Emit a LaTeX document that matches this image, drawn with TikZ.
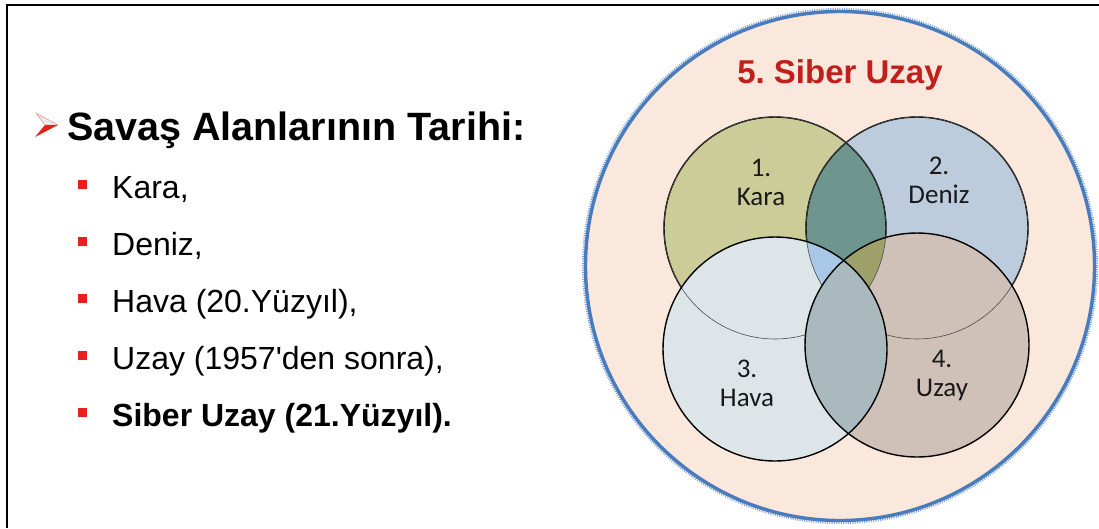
\documentclass[tikz,border=0pt]{standalone}
\usepackage{fontspec}
\setmainfont{Liberation Sans}
\newfontfamily\calibri{Carlito}
\definecolor{peach}{HTML}{FBE8DC}
\definecolor{ringblue}{HTML}{4A7BBD}
\definecolor{ringlight}{HTML}{7FA4D6}
\definecolor{karaC}{HTML}{CBCC98}
\definecolor{denizC}{HTML}{BCCCDC}
\definecolor{havaC}{HTML}{DDE5E8}
\definecolor{uzayC}{HTML}{CFC0B8}
\definecolor{tealC}{HTML}{6E968F}
\definecolor{lblueC}{HTML}{A9C8E6}
\definecolor{oliveC}{HTML}{9DA169}
\definecolor{lensC}{HTML}{A9B9BE}
\definecolor{bulletred}{HTML}{E8201C}
\definecolor{titlered}{HTML}{C0201C}
\tikzset{
  setcircle/.style={line width=1.4pt, draw=black},
  thinarc/.style={line width=0.6pt, draw=black!70},
  itemtext/.style={anchor=base west, inner sep=0pt, font=\fontsize{32}{36}\selectfont},
  bulletbox/.style={fill=bulletred, minimum size=9pt, inner sep=0pt},
  circlabel/.style={anchor=base, align=center, inner sep=0pt, text=black!90, font=\calibri\fontsize{27}{29}\selectfont}
}
\frenchspacing
\begin{document}
\frenchspacing
\begin{tikzpicture}[x=1pt,y=-1pt]
\useasboundingbox (0,0) rectangle (1099,528);
\fill[white] (0,0) rectangle (1099,528);
% frame (top and left edges)
\draw[line width=2pt] (7,528) -- (7,4.5) -- (1099,4.5);

% ---------- left text ----------
% arrow bullet
\coordinate (aTop) at (36,113);
\coordinate (aTip) at (58,125);
\coordinate (aNotch) at (45,125);
\coordinate (aBot) at (35,137);
\fill[white!92!black, draw=bulletred!60, line width=0.4pt] (aTop) -- (aTip) -- (aNotch) -- cycle;
\fill[bulletred] (aNotch) -- (aTip) -- (aBot) -- cycle;
\node[anchor=base west, inner sep=0pt, font=\bfseries\fontsize{39.5}{44}\selectfont] (title) at (67,140) {Savaş Alanlarının Tarihi:};

\node[bulletbox] (b1) at (82,184) {};
\node[itemtext] (t1) at (112,198) {Kara,};
\node[bulletbox] (b2) at (82,241) {};
\node[itemtext] (t2) at (112,255) {Deniz,};
\node[bulletbox] (b3) at (82,298) {};
\node[itemtext] (t3) at (112,312) {Hava (20.Yüzyıl),};
\node[bulletbox] (b4) at (82,355) {};
\node[itemtext] (t4) at (112,369) {Uzay (1957\textquotesingle den sonra),};
\node[bulletbox] (b5) at (82,412) {};
\node[itemtext, font=\bfseries\fontsize{32}{36}\selectfont] (t5) at (112,426) {Siber Uzay (21.Yüzyıl).};

% ---------- right diagram ----------
\coordinate (cB) at (840,266);
\coordinate (cK) at (775,228);
\coordinate (cD) at (917,228);
\coordinate (cH) at (775,349);
\coordinate (cU) at (917,345);
\def\rK{111pt}
\def\rH{112pt}

% outer cyber-space circle
\fill[peach] (cB) circle[radius=255pt];
\draw[ringlight, line width=3.2pt, dash pattern=on 1pt off 1.3pt] (cB) circle[radius=256.5pt];
\draw[ringblue, line width=3.4pt] (cB) circle[radius=254.5pt];

\node[anchor=base, inner sep=0pt, text=titlered, font=\bfseries\fontsize{33}{36}\selectfont] (siber) at (840,83) {5. Siber Uzay};

% upper circles
\fill[karaC] (cK) circle[radius=\rK];
\fill[denizC] (cD) circle[radius=\rK];
\begin{scope}
  \clip (cK) circle[radius=\rK];
  \fill[tealC] (cD) circle[radius=\rK];
\end{scope}
\draw[setcircle] (cK) circle[radius=\rK];
\draw[setcircle] (cD) circle[radius=\rK];

% lower circles
\fill[havaC] (cH) circle[radius=\rH];
\fill[uzayC] (cU) circle[radius=\rH];
\begin{scope}
  \clip (cK) circle[radius=\rK];
  \clip (cD) circle[radius=\rK];
  \fill[lblueC] (cH) circle[radius=\rH];
\end{scope}
\begin{scope}
  \clip (cK) circle[radius=\rK];
  \clip (cD) circle[radius=\rK];
  \fill[oliveC] (cU) circle[radius=\rH];
\end{scope}
% faint lower arcs of the upper circles
\draw[thinarc] (cK) circle[radius=\rK];
\draw[thinarc] (cD) circle[radius=\rK];
\begin{scope}
  \clip (cH) circle[radius=\rH];
  \fill[lensC] (cU) circle[radius=\rH];
\end{scope}
\draw[setcircle] (cH) circle[radius=\rH];
\draw[setcircle] (cU) circle[radius=\rH];

% labels (base anchor = baseline of the last line)
\node[circlabel] (lK) at (761,205) {1.\\Kara};
\node[circlabel] (lD) at (939,203) {2.\\Deniz};
\node[circlabel] (lH) at (747,406) {3.\\Hava};
\node[circlabel] (lU) at (942,396) {4.\\Uzay};
\end{tikzpicture}
\end{document}
